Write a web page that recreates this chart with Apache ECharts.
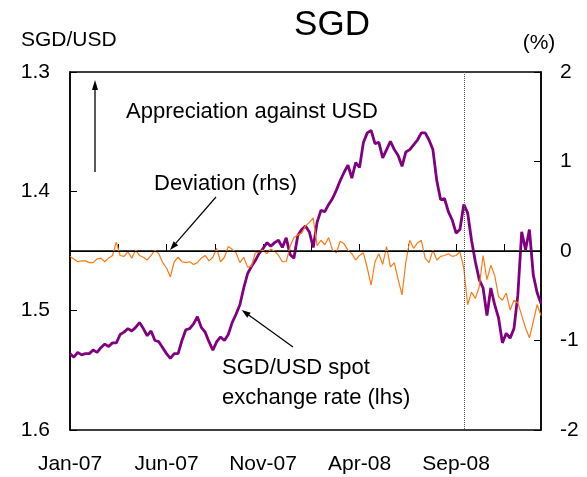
<!DOCTYPE html>
<html>
<head>
<meta charset="utf-8">
<title>SGD</title>
<script src="https://cdn.jsdelivr.net/npm/echarts@6/dist/echarts.min.js"></script>
<style>
    html, body { margin: 0; padding: 0; background: #fff; }
    #chartLine { width: 587px; height: 477px; }
</style>
</head>
<body>
<div id="chartLine"></div>
<script>
    // x positions are months from Jan-07, one sample every 0.2 month
    var monthStep = 0.2;
    var tickLabels = ['Jan-07', 'Jun-07', 'Nov-07', 'Apr-08', 'Sep-08'];
    var lehmanMonth = 20.4;

    // SGD per USD (lhs, inverted)
    var sgdUsd = [
        1.536, 1.539, 1.535, 1.537, 1.536, 1.536, 1.533, 1.535, 1.531, 1.528,
        1.530, 1.527, 1.527, 1.520, 1.518, 1.515, 1.517, 1.514, 1.510, 1.515,
        1.521, 1.517, 1.525, 1.526, 1.531, 1.536, 1.540, 1.536, 1.536, 1.525,
        1.516, 1.515, 1.511, 1.505, 1.514, 1.518, 1.526, 1.533, 1.526, 1.522,
        1.525, 1.520, 1.510, 1.503, 1.495, 1.481, 1.469, 1.463, 1.458, 1.452,
        1.448, 1.443, 1.446, 1.443, 1.441, 1.447, 1.439, 1.453, 1.456, 1.437,
        1.432, 1.429, 1.434, 1.447, 1.426, 1.416, 1.417, 1.411, 1.406, 1.399,
        1.391, 1.384, 1.378, 1.389, 1.376, 1.380, 1.359, 1.351, 1.349, 1.360,
        1.359, 1.372, 1.365, 1.358, 1.365, 1.370, 1.379, 1.367, 1.365, 1.361,
        1.357, 1.351, 1.351, 1.357, 1.365, 1.391, 1.407, 1.406, 1.417, 1.424,
        1.435, 1.432, 1.411, 1.418, 1.441, 1.459, 1.474, 1.481, 1.504, 1.481,
        1.495, 1.506, 1.527, 1.519, 1.523, 1.515, 1.487, 1.434, 1.449, 1.432,
        1.470, 1.485, 1.494
    ];

    // deviation in % (rhs)
    var deviation = [
        -0.06, -0.09, -0.12, -0.11, -0.11, -0.13, -0.13, -0.09, -0.08, -0.12,
        -0.08, -0.05, 0.10, -0.05, -0.06, -0.01, -0.08, 0.01, -0.05, -0.07,
        -0.10, -0.05, 0.01, -0.03, -0.13, -0.19, -0.29, -0.12, -0.07, -0.12,
        -0.13, -0.12, -0.15, -0.13, -0.08, -0.05, -0.11, -0.07, 0.03, -0.12,
        -0.07, 0.05, 0.02, -0.02, -0.13, -0.07, -0.18, -0.17, -0.02, -0.01,
        0.01, -0.03, 0.02, 0.00, -0.05, -0.12, -0.12, 0.05, 0.15, 0.18,
        0.20, 0.28, 0.32, 0.37, 0.06, 0.12, 0.07, 0.15, 0.01, -0.02,
        0.11, 0.08, 0.01, -0.03, -0.10, -0.05, -0.02, -0.19, -0.38, -0.12,
        -0.03, -0.15, 0.05, -0.18, -0.13, -0.32, -0.49, -0.12, 0.12, 0.03,
        0.09, 0.12, -0.08, -0.13, 0.01, -0.10, -0.06, -0.05, -0.03, -0.06,
        -0.05, -0.01, -0.19, -0.60, -0.46, -0.53, -0.40, -0.05, -0.32, -0.16,
        -0.27, -0.51, -0.55, -0.47, -0.66, -0.55, -0.58, -0.72, -0.86, -0.97,
        -0.79, -0.60, -0.72
    ];

    var font = 'Liberation Sans, Arial, sans-serif';

    function toPairs(arr) {
        return arr.map(function (v, i) { return [+(i * monthStep).toFixed(2), v]; });
    }

    var chart = echarts.init(document.getElementById('chartLine'));

    var option = {
        animation: false,
        backgroundColor: '#fff',
        textStyle: { fontFamily: font, color: '#000' },
        grid: {
            left: 70, right: 46, top: 72, bottom: 47,
            show: true, borderColor: '#000', borderWidth: 1.5
        },
        xAxis: {
            type: 'value',
            min: 0,
            max: 24.4,
            interval: 2.5,
            splitLine: { show: false },
            axisLine: { lineStyle: { color: '#000', width: 1.5 } },
            axisTick: { inside: true, length: 7, lineStyle: { color: '#000' } },
            axisLabel: {
                margin: 24, fontSize: 21, color: '#000', fontFamily: font,
                formatter: function (v) {
                    var k = v / 5;
                    return Number.isInteger(k) && tickLabels[k] ? tickLabels[k] : '';
                }
            }
        },
        yAxis: [
            {
                type: 'value',
                position: 'left',
                inverse: true,
                min: 1.3,
                max: 1.6,
                interval: 0.1,
                splitLine: { show: false },
                axisLine: { show: true, lineStyle: { color: '#000', width: 1.5 } },
                axisTick: { show: true, inside: true, length: 7, lineStyle: { color: '#000' } },
                axisLabel: {
                    margin: 20, fontSize: 21, color: '#000', fontFamily: font,
                    formatter: function (v) { return v.toFixed(1); }
                }
            },
            {
                type: 'value',
                position: 'right',
                min: -2,
                max: 2,
                interval: 1,
                splitLine: { show: false },
                axisLine: { show: true, lineStyle: { color: '#000', width: 1.5 } },
                axisTick: { show: true, inside: true, length: 7, lineStyle: { color: '#000' } },
                axisLabel: { margin: 19, fontSize: 21, color: '#000', fontFamily: font }
            }
        ],
        series: [
            {
                name: 'SGD/USD spot exchange rate (lhs)',
                type: 'line',
                yAxisIndex: 0,
                showSymbol: false,
                lineStyle: { color: '#800080', width: 2.8 },
                itemStyle: { color: '#800080' },
                data: toPairs(sgdUsd),
                markLine: {
                    silent: true,
                    symbol: 'none',
                    label: { show: false },
                    lineStyle: { color: '#555', type: 'dotted', width: 1 },
                    data: [{ xAxis: lehmanMonth }]
                }
            },
            {
                name: 'Deviation (rhs)',
                type: 'line',
                yAxisIndex: 1,
                showSymbol: false,
                lineStyle: { color: '#ff7a14', width: 1.2 },
                itemStyle: { color: '#ff7a14' },
                data: toPairs(deviation),
                markLine: {
                    silent: true,
                    symbol: 'none',
                    label: { show: false },
                    lineStyle: { color: '#000', type: 'solid', width: 1.2 },
                    data: [{ yAxis: 0 }]
                }
            }
        ],
        graphic: [
            { type: 'text', x: 332, y: 25, style: { text: 'SGD', font: '35px ' + font, fill: '#000', textAlign: 'center', textVerticalAlign: 'middle' } },
            { type: 'text', x: 21, y: 40, style: { text: 'SGD/USD', font: '21px ' + font, fill: '#000', textVerticalAlign: 'middle' } },
            { type: 'text', x: 539, y: 43, style: { text: '(%)', font: '21px ' + font, fill: '#000', textAlign: 'center', textVerticalAlign: 'middle' } },

            // appreciation arrow
            { type: 'line', shape: { x1: 95, y1: 172, x2: 95, y2: 88 }, style: { stroke: '#000', lineWidth: 1.3 } },
            { type: 'polygon', shape: { points: [[95, 80], [92, 90], [98, 90]] }, style: { fill: '#000' } },
            { type: 'text', x: 126, y: 112, style: { text: 'Appreciation against USD', font: '22px ' + font, fill: '#000', textVerticalAlign: 'middle' } },

            // deviation label
            { type: 'text', x: 154, y: 184, style: { text: 'Deviation (rhs)', font: '22px ' + font, fill: '#000', textVerticalAlign: 'middle' } },
            { type: 'line', shape: { x1: 216, y1: 197, x2: 175.9, y2: 243.2 }, style: { stroke: '#000', lineWidth: 1.2 } },
            { type: 'polygon', shape: { points: [[170, 250], [178.2, 245.2], [173.6, 241.2]] }, style: { fill: '#000' } },

            // spot rate label
            { type: 'line', shape: { x1: 293, y1: 347, x2: 249, y2: 315.2 }, style: { stroke: '#000', lineWidth: 1.2 } },
            { type: 'polygon', shape: { points: [[241.7, 310], [247.3, 317.7], [250.7, 312.8]] }, style: { fill: '#000' } },
            { type: 'text', x: 222, y: 368, style: { text: 'SGD/USD spot', font: '22px ' + font, fill: '#000', textVerticalAlign: 'middle' } },
            { type: 'text', x: 222, y: 398, style: { text: 'exchange rate (lhs)', font: '22px ' + font, fill: '#000', textVerticalAlign: 'middle' } }
        ]
    };

    chart.setOption(option);
</script>
</body>
</html>
